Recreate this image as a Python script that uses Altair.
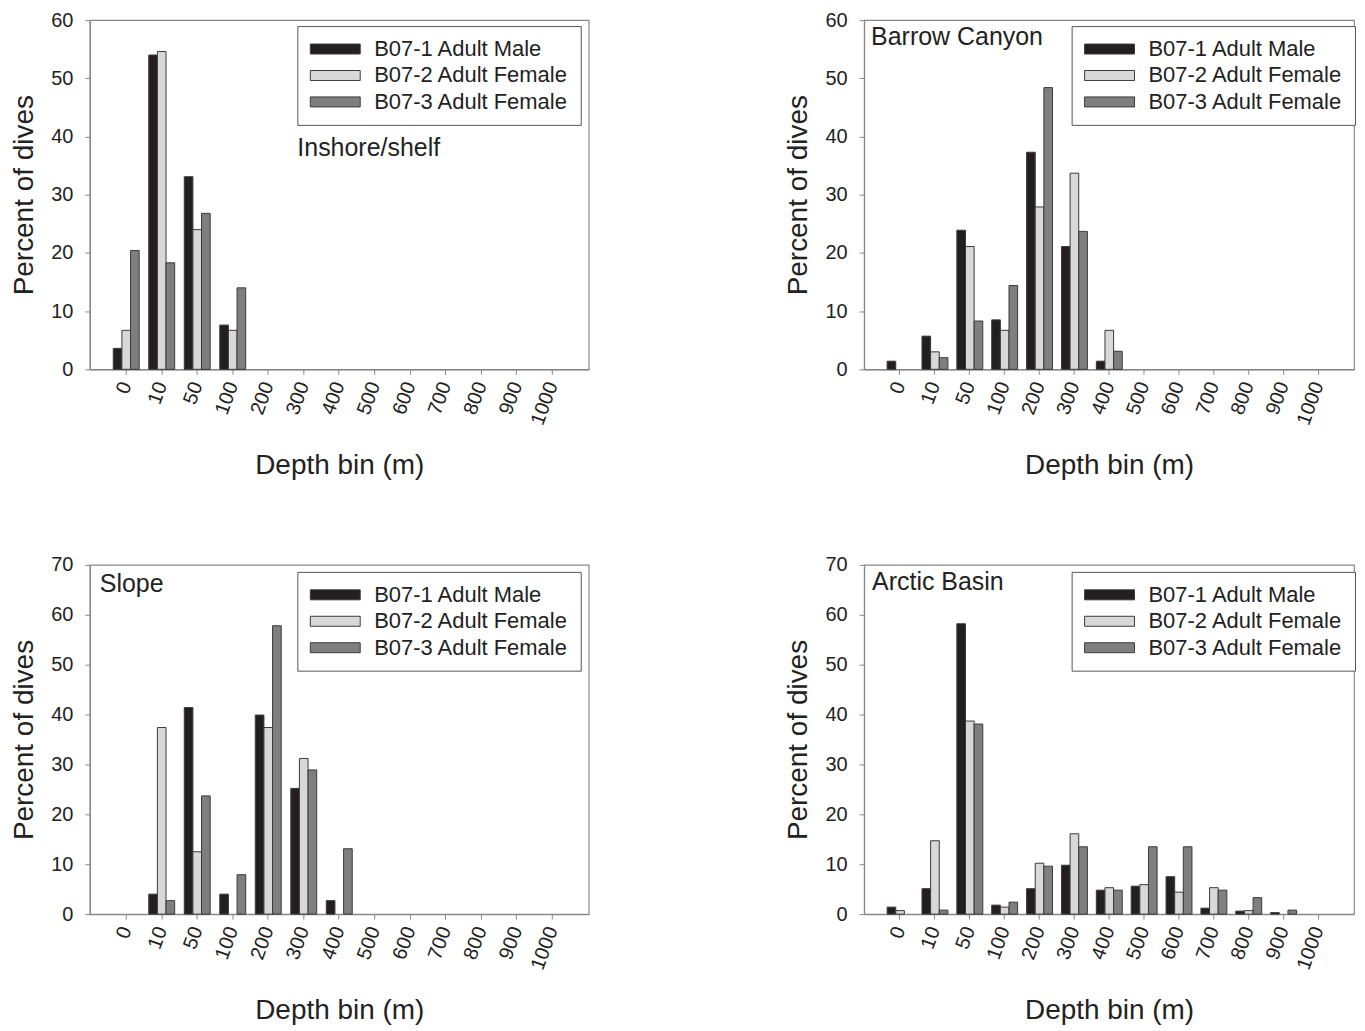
import altair as alt
import pandas as pd

bins = ["0", "10", "50", "100", "200", "300", "400", "500", "600", "700", "800", "900", "1000"]
animals = ["B07-1 Adult Male", "B07-2 Adult Female", "B07-3 Adult Female"]
colors = ["#231f20", "#d8d8d8", "#7f7f7f"]

# Inshore/shelf
shelf_male   = [3.6, 54.0, 33.1, 7.6, 0, 0, 0, 0, 0, 0, 0, 0, 0]
shelf_fem2   = [6.7, 54.6, 24.0, 6.7, 0, 0, 0, 0, 0, 0, 0, 0, 0]
shelf_fem3   = [20.4, 18.3, 26.8, 14.0, 0, 0, 0, 0, 0, 0, 0, 0, 0]
# Barrow Canyon
canyon_male  = [1.4, 5.7, 23.9, 8.5, 37.3, 21.1, 1.4, 0, 0, 0, 0, 0, 0]
canyon_fem2  = [0, 3.0, 21.1, 6.7, 27.9, 33.7, 6.7, 0, 0, 0, 0, 0, 0]
canyon_fem3  = [0, 2.0, 8.3, 14.4, 48.4, 23.7, 3.1, 0, 0, 0, 0, 0, 0]
# Slope
slope_male   = [0, 4.0, 41.4, 4.0, 39.9, 25.2, 2.7, 0, 0, 0, 0, 0, 0]
slope_fem2   = [0, 37.4, 12.5, 0, 37.4, 31.2, 0, 0, 0, 0, 0, 0, 0]
slope_fem3   = [0, 2.7, 23.7, 7.9, 57.8, 28.9, 13.1, 0, 0, 0, 0, 0, 0]
# Arctic Basin
basin_male   = [1.4, 5.1, 58.2, 1.8, 5.1, 9.8, 4.8, 5.6, 7.5, 1.2, 0.6, 0.3, 0]
basin_fem2   = [0.7, 14.7, 38.7, 1.4, 10.2, 16.1, 5.3, 5.9, 4.4, 5.3, 0.7, 0, 0]
basin_fem3   = [0, 0.8, 38.1, 2.4, 9.6, 13.5, 4.8, 13.5, 13.5, 4.8, 3.3, 0.8, 0]

panel_labels = ["Inshore/shelf", "Barrow Canyon", "Slope", "Arctic Basin"]
y_max = [60, 60, 70, 70]
label_pos = [(208, 128), (7, 17), (10, 19), (8, 17)]
legend_y = [6, 6, 7, 7]
widths = [500, 491, 500, 491]

series = [
    (shelf_male, shelf_fem2, shelf_fem3),
    (canyon_male, canyon_fem2, canyon_fem3),
    (slope_male, slope_fem2, slope_fem3),
    (basin_male, basin_fem2, basin_fem3),
]

FONT = "Liberation Sans"


def make_panel(i):
    rows = []
    for a, vals in zip(animals, series[i]):
        for b, v in zip(bins, vals):
            rows.append({"depth": b, "animal": a, "pct": v})
    df = pd.DataFrame(rows)
    ymax = y_max[i]
    bars = alt.Chart(df).transform_filter("datum.pct > 0").mark_bar(
        stroke="#3a3a3a", strokeWidth=1
    ).encode(
        x=alt.X("depth:N", sort=bins,
                scale=alt.Scale(domain=bins, paddingInner=0.27, paddingOuter=0.66),
                axis=alt.Axis(title="Depth bin (m)", labelAngle=290, labelPadding=8,
                              titlePadding=24)),
        xOffset=alt.XOffset("animal:N", sort=animals,
                            scale=alt.Scale(domain=animals, paddingInner=0, paddingOuter=0)),
        y=alt.Y("pct:Q", scale=alt.Scale(domain=[0, ymax], nice=False),
                axis=alt.Axis(title="Percent of dives", values=list(range(0, ymax + 1, 10)),
                              labelPadding=12, titlePadding=12)),
        color=alt.Color("animal:N", sort=animals,
                        scale=alt.Scale(domain=animals, range=colors),
                        legend=alt.Legend(title=None, orient="none", legendX=208,
                                          legendY=legend_y[i],
                                          direction="vertical",
                                          symbolType="M-2.5,-0.5L2.5,-0.5L2.5,0.5L-2.5,0.5Z",
                                          symbolSize=400, symbolOffset=15,
                                          symbolStrokeColor="#3a3a3a",
                                          symbolStrokeWidth=1, symbolOpacity=1,
                                          labelFontSize=22, labelFont=FONT, labelColor="#222",
                                          labelOffset=28, rowPadding=4.5,
                                          padding=12, strokeColor="#555", fillColor="white",
                                          labelLimit=400)),
    )
    lx, ly = label_pos[i]
    txt = alt.Chart(pd.DataFrame({"t": [panel_labels[i]]})).mark_text(
        align="left", baseline="middle", fontSize=25, font=FONT, color="#222"
    ).encode(text="t:N", x=alt.value(lx), y=alt.value(ly))
    return alt.layer(bars, txt).properties(width=widths[i], height=350)


p = [make_panel(i) for i in range(4)]
row1 = alt.hconcat(p[0], p[1], spacing=195).resolve_scale(color="independent").resolve_legend(color="independent")
row2 = alt.hconcat(p[2], p[3], spacing=195).resolve_scale(color="independent").resolve_legend(color="independent")
chart = alt.vconcat(row1, row2, spacing=74).resolve_scale(color="independent").resolve_legend(
    color="independent"
).properties(padding={"left": 2, "top": 0, "right": 0, "bottom": 0}).configure_view(
    stroke="#888", strokeWidth=1.2
).configure_axis(
    labelFont=FONT, titleFont=FONT, labelFontSize=20, titleFontSize=28,
    titleFontWeight="normal", labelColor="#222", titleColor="#222",
    domainColor="#888", tickColor="#888", tickSize=5, grid=False, domainWidth=1.2
)

chart.save("out.html", embed_options={"renderer": "svg", "actions": False})
